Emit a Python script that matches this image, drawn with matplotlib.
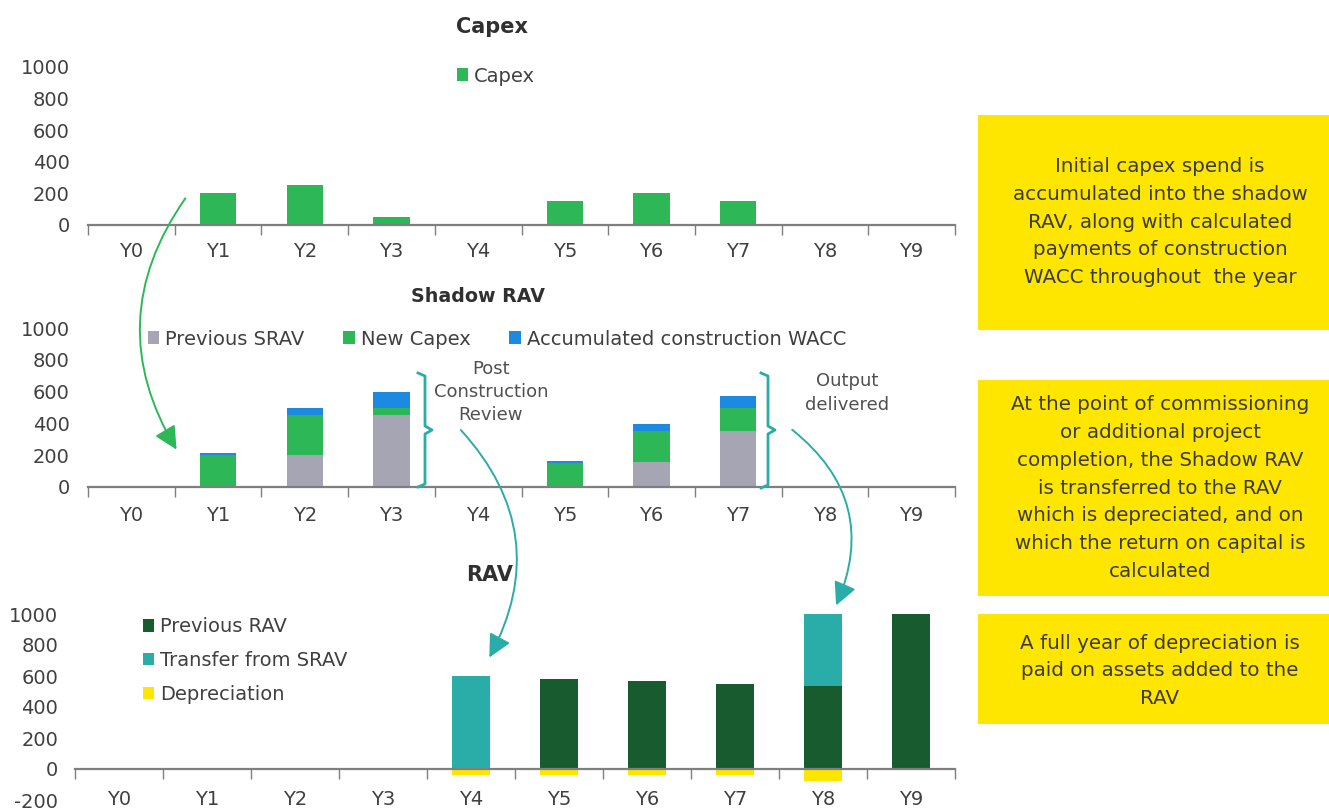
import matplotlib

matplotlib.use("Agg")
import matplotlib.pyplot as plt
import matplotlib.patches as mpatches
from matplotlib.lines import Line2D
import numpy as np

plt.rcParams["font.family"] = ["DejaVu Sans"]
plt.rcParams["axes.unicode_minus"] = False

# ---- data -------------------------------------------------------------
years = ["Y0", "Y1", "Y2", "Y3", "Y4", "Y5", "Y6", "Y7", "Y8", "Y9"]

capex = [0, 200, 250, 50, 0, 150, 200, 150, 0, 0]

srav_previous = [0, 0, 200, 450, 0, 0, 155, 350, 0, 0]
srav_new_capex = [0, 200, 250, 50, 0, 150, 200, 150, 0, 0]
srav_wacc = [0, 15, 45, 100, 0, 12, 40, 75, 0, 0]

rav_previous = [0, 0, 0, 0, 0, 580, 565, 550, 535, 1000]
rav_transfer = [0, 0, 0, 0, 600, 0, 0, 0, 465, 0]
rav_depreciation = [0, 0, 0, 0, -40, -40, -40, -40, -75, 0]

notes = [
    "Initial capex spend is\naccumulated into the shadow\nRAV, along with calculated\n"
    "payments of construction\nWACC throughout  the year",
    "At the point of commissioning\nor additional project\ncompletion, the Shadow RAV\n"
    "is transferred to the RAV\nwhich is depreciated, and on\nwhich the return on capital is\ncalculated",
    "A full year of depreciation is\npaid on assets added to the\nRAV",
]

# ---- colours ----------------------------------------------------------
GREEN = "#2db757"
GREY = "#a5a5b4"
BLUE = "#1c8ae0"
DKGREEN = "#185b2f"
TEAL = "#2aaca8"
YELLOW = "#ffe600"
TXT = "#404040"
AXC = "#7f7f7f"

W, H = 1329, 809
fig = plt.figure(figsize=(W / 100, H / 100), dpi=100)


def px_axes(left, right, top, bottom):
    """axes from image pixel coords (y down)."""
    return fig.add_axes([left / W, 1 - bottom / H, (right - left) / W, (bottom - top) / H])


def style(ax, ymin, ymax, ypad=13, xpad=14):
    n = len(years)
    ax.set_xlim(0, n)
    ax.set_ylim(ymin, ymax)
    ax.set_yticks(np.arange(ymin, ymax + 1, 200))
    ax.set_xticks(np.arange(n) + 0.5)
    ax.set_xticklabels(years)
    ax.set_xticks(np.arange(n + 1), minor=True)
    for s in ("top", "right", "left"):
        ax.spines[s].set_visible(False)
    ax.spines["bottom"].set_position(("data", 0))
    ax.spines["bottom"].set_color(AXC)
    ax.spines["bottom"].set_linewidth(1.6)
    ax.tick_params(axis="x", which="major", length=0, pad=xpad, labelsize=14, labelcolor=TXT)
    ax.tick_params(axis="x", which="minor", length=7, width=1, color=AXC, direction="out")
    ax.tick_params(axis="y", length=0, pad=ypad, labelsize=14, labelcolor=TXT)
    ax.patch.set_alpha(0)


leg_kw = dict(frameon=False, fontsize=14, handlelength=0.6, handleheight=0.6,
              handletextpad=0.3, labelcolor=TXT, bbox_transform=fig.transFigure)

x = np.arange(len(years)) + 0.5
bw = 0.42

# ---- Capex ------------------------------------------------------------
ax1 = px_axes(88, 955, 67, 225)
style(ax1, 0, 1000, xpad=12)
ax1.bar(x, capex, bw, color=GREEN, label="Capex")
ax1.legend(loc="center", bbox_to_anchor=(496 / W, 1 - 76 / H), **leg_kw)
fig.text(492 / W, 1 - 27 / H, "Capex", ha="center", va="center", fontsize=15, fontweight="bold",
         color="#303030")

# ---- Shadow RAV -------------------------------------------------------
ax2 = px_axes(88, 955, 328, 487)
style(ax2, 0, 1000)
ax2.bar(x, srav_previous, bw, color=GREY, label="Previous SRAV")
ax2.bar(x, srav_new_capex, bw, bottom=srav_previous, color=GREEN, label="New Capex")
ax2.bar(x, srav_wacc, bw, bottom=np.add(srav_previous, srav_new_capex), color=BLUE,
        label="Accumulated construction WACC")
ax2.legend(loc="center left", bbox_to_anchor=(130 / W, 1 - 339 / H), ncol=3,
           columnspacing=2.0, **leg_kw)
fig.text(478 / W, 1 - 296 / H, "Shadow RAV", ha="center", va="center", fontsize=13.7,
         fontweight="bold", color="#303030")

# ---- RAV --------------------------------------------------------------
ax3 = px_axes(75, 955, 614, 800)
style(ax3, -200, 1000, ypad=12, xpad=15)
rw = bw * 88 / 86.7
ax3.bar(x, rav_previous, rw, color=DKGREEN, label="Previous RAV")
ax3.bar(x, rav_transfer, rw, bottom=rav_previous, color=TEAL, label="Transfer from SRAV")
ax3.bar(x, rav_depreciation, rw, color=YELLOW, label="Depreciation")
ax3.legend(loc="upper left", bbox_to_anchor=(125 / W, 1 - 600 / H), labelspacing=0.75, **leg_kw)
fig.text(490 / W, 1 - 575 / H, "RAV", ha="center", va="center", fontsize=15, fontweight="bold",
         color="#303030")

# ---- yellow note boxes ------------------------------------------------
boxes = [(115, 330, 222), (380, 596, 488), (614, 724, 671)]
for (top, bot, mid), txt in zip(boxes, notes):
    fig.patches.append(mpatches.Rectangle((978 / W, 1 - bot / H), (W - 978) / W, (bot - top) / H,
                                          transform=fig.transFigure, facecolor=YELLOW,
                                          edgecolor="none"))
    fig.text(1160 / W, 1 - mid / H, txt, ha="center", va="center", fontsize=14.3,
             color="#3a3a3a", linespacing=1.58)

# ---- annotations ------------------------------------------------------
fig.text(491 / W, 1 - 392 / H, "Post\nConstruction\nReview", ha="center", va="center",
         fontsize=13, color="#505050", linespacing=1.38)
fig.text(847 / W, 1 - 393 / H, "Output\ndelivered", ha="center", va="center",
         fontsize=13, color="#505050", linespacing=1.4)


def brace(x0, top, bot, tip_y):
    xs = [x0, x0 + 7, x0 + 7, x0 + 14, x0 + 7, x0 + 7, x0]
    ys = [top, top + 3, tip_y - 4, tip_y, tip_y + 4, bot - 3, bot]
    fig.add_artist(Line2D([v / W for v in xs], [1 - v / H for v in ys], color=TEAL, lw=2,
                          transform=fig.transFigure))


brace(418, 373, 487, 430)
brace(761, 373, 488, 430)


def curved(p0, p1, rad, color):
    fig.add_artist(mpatches.FancyArrowPatch(
        (p0[0] / W, 1 - p0[1] / H), (p1[0] / W, 1 - p1[1] / H), transform=fig.transFigure,
        connectionstyle=f"arc3,rad={rad}", arrowstyle="-|>,head_length=14,head_width=7",
        color=color, lw=1.4, mutation_scale=1))


curved((187, 196), (178, 452), 0.33, GREEN)
curved((459, 428), (488, 660), -0.36, TEAL)
curved((790, 428), (835, 608), -0.39, TEAL)

fig.savefig("out.png", dpi=100)
